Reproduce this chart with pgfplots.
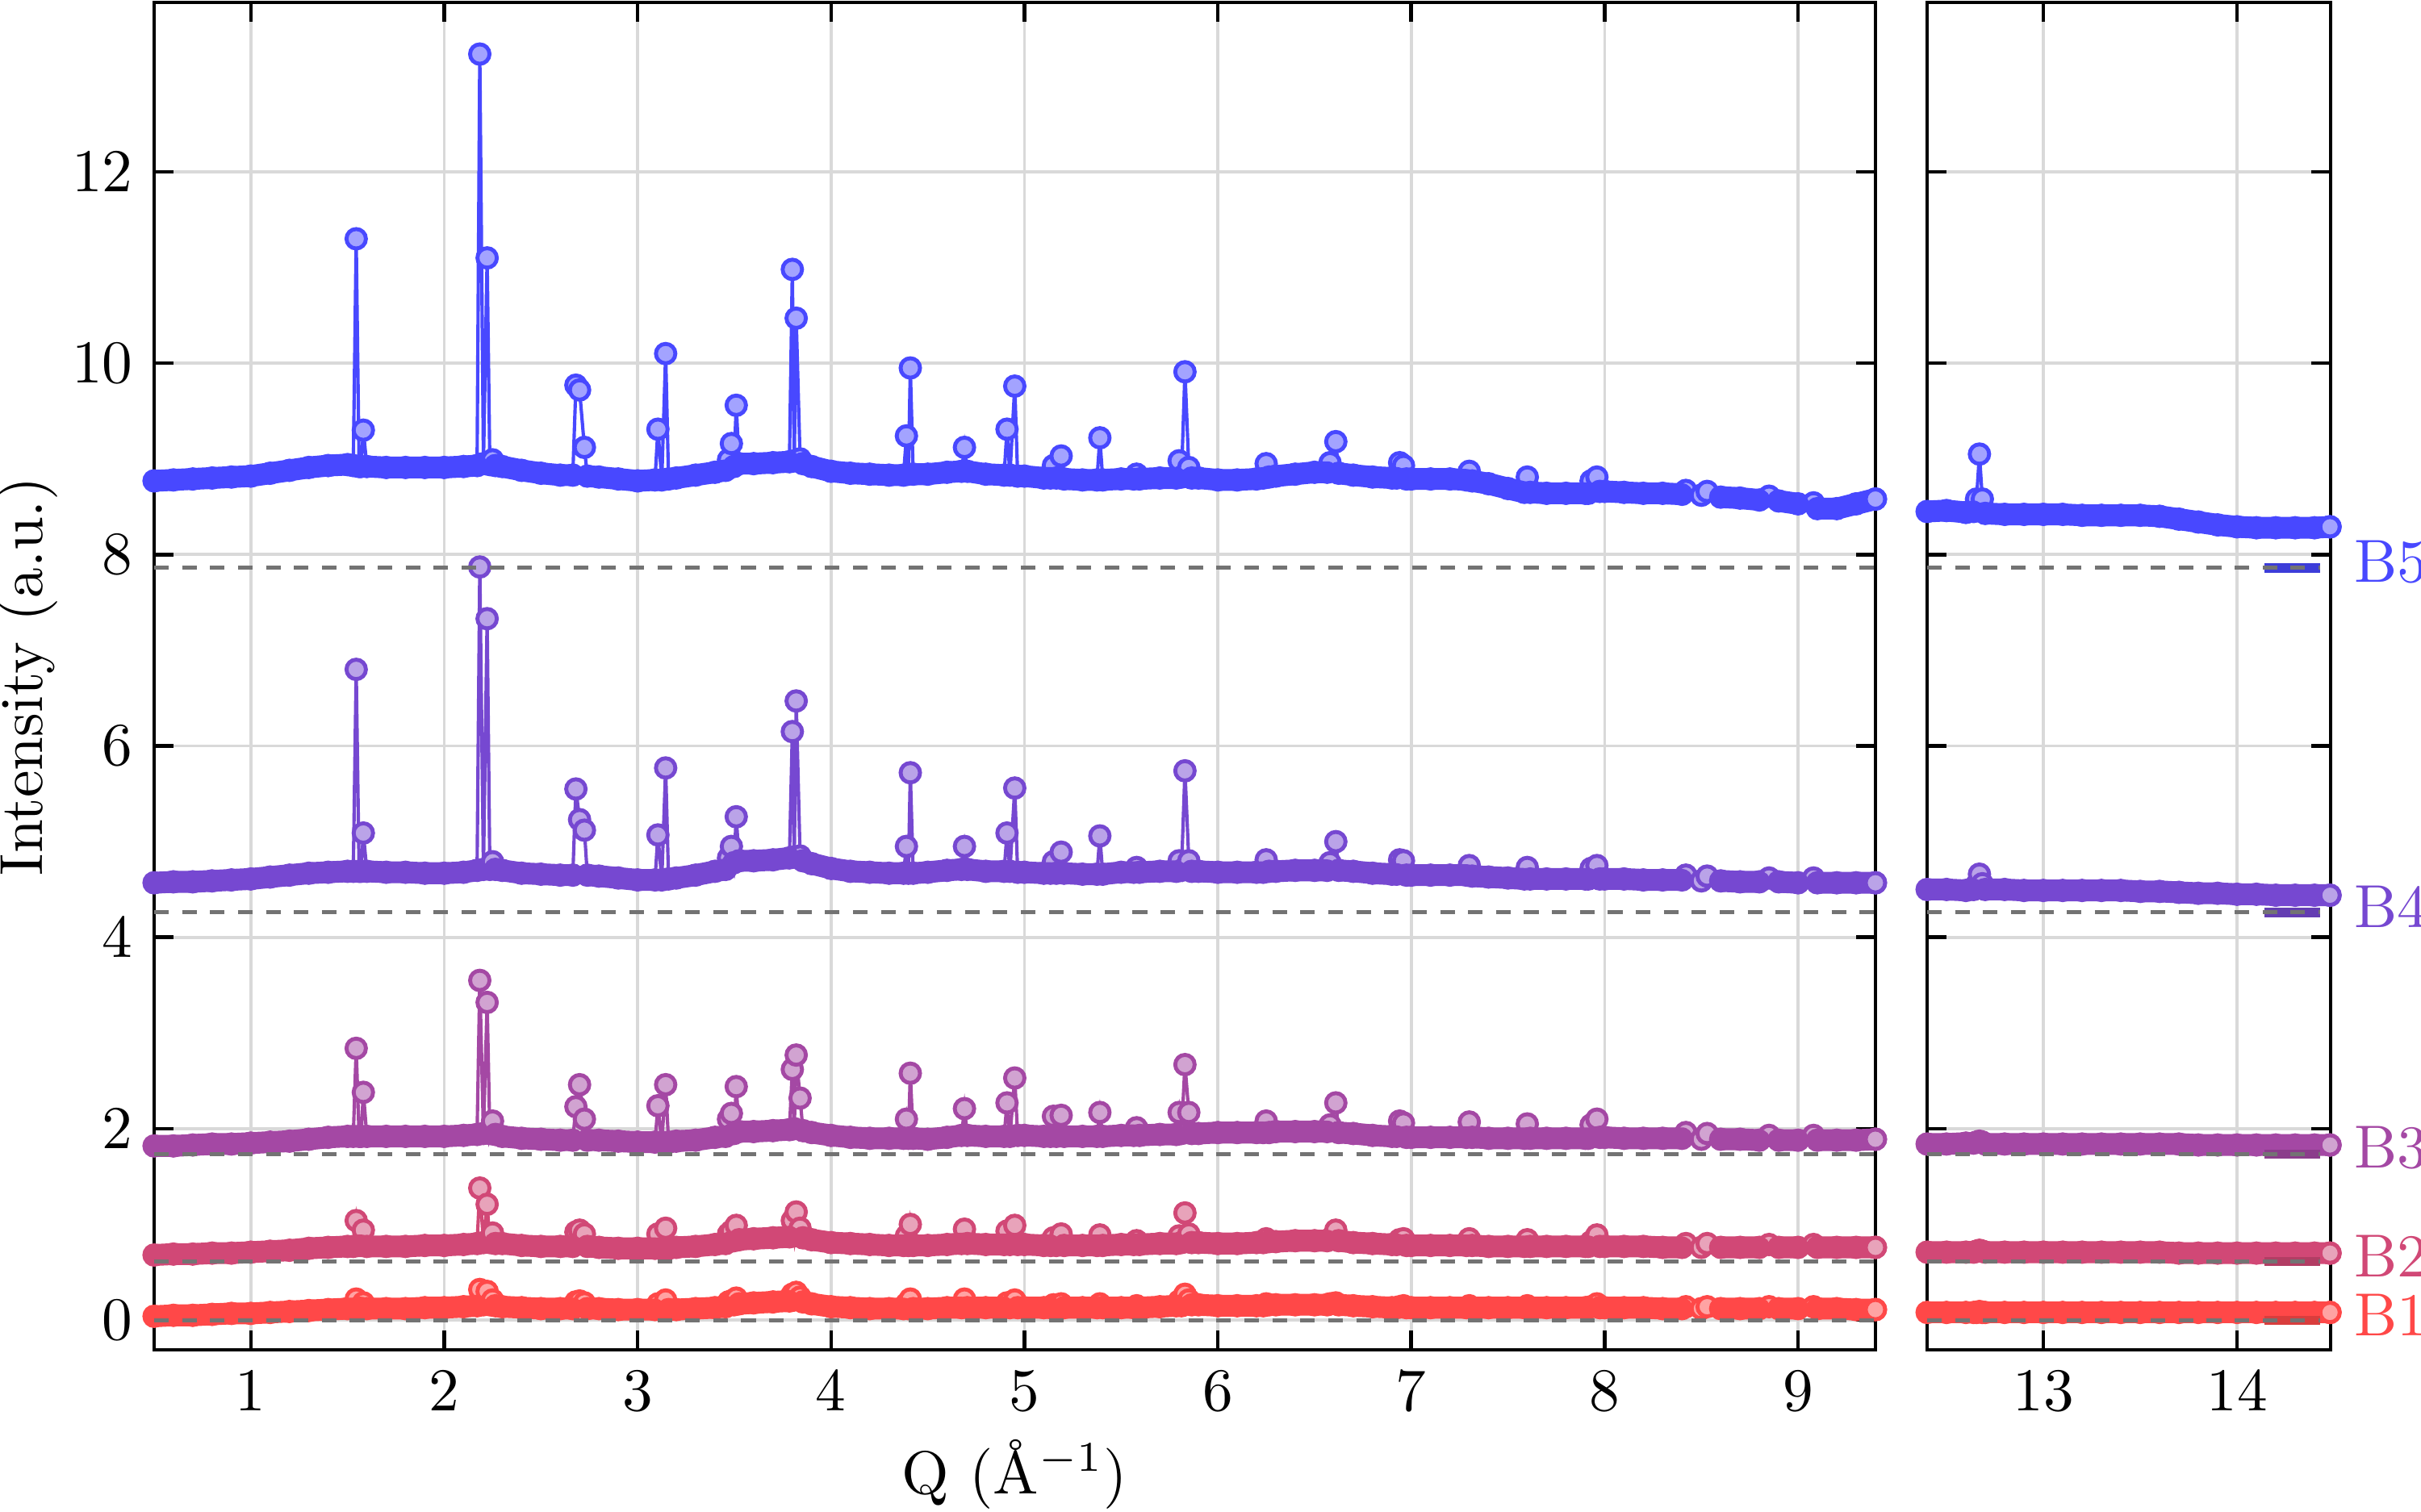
\documentclass[border=0pt]{standalone}
\usepackage{pgfplots}
\pgfplotsset{compat=1.18}
\usepackage{pgfplotstable}

\definecolor{cB1}{RGB}{255,72,72}
\definecolor{cB2}{RGB}{209,72,118}
\definecolor{cB3}{RGB}{164,72,164}
\definecolor{cB4}{RGB}{118,72,209}
\definecolor{cB5}{RGB}{72,72,255}

\pgfplotstableread{
Q b1 b2 b3 b4 b5 pk
0.50 0.04 0.68 1.82 4.57 8.77 0
0.60 0.05 0.69 1.82 4.58 8.78 0
0.70 0.05 0.69 1.83 4.58 8.79 0
0.80 0.06 0.70 1.84 4.59 8.80 0
0.90 0.07 0.70 1.84 4.60 8.81 0
1.00 0.07 0.71 1.85 4.61 8.82 0
1.10 0.08 0.72 1.86 4.63 8.85 0
1.20 0.09 0.73 1.87 4.65 8.88 0
1.30 0.10 0.75 1.89 4.67 8.91 0
1.40 0.11 0.76 1.91 4.68 8.93 0
1.50 0.12 0.77 1.92 4.69 8.94 0
1.530 0.12 0.77 1.92 4.69 8.93 0
1.545 0.22 1.04 2.84 6.80 11.30 1
1.560 0.13 0.78 1.92 4.69 8.92 0
1.570 0.13 0.78 1.92 4.69 8.92 0
1.582 0.18 0.94 2.38 5.09 9.30 1
1.60 0.12 0.77 1.92 4.69 8.92 0
1.70 0.12 0.77 1.92 4.68 8.91 0
1.80 0.12 0.77 1.92 4.68 8.91 0
1.90 0.13 0.78 1.92 4.67 8.91 0
2.00 0.13 0.78 1.92 4.67 8.91 0
2.10 0.14 0.79 1.93 4.68 8.92 0
2.170 0.15 0.80 1.94 4.70 8.93 0
2.184 0.32 1.38 3.55 7.87 13.23 1
2.203 0.16 0.81 1.95 4.71 8.95 0
2.222 0.30 1.21 3.32 7.33 11.10 1
2.236 0.16 0.81 1.95 4.71 8.94 0
2.250 0.21 0.91 2.08 4.79 8.99 1
2.265 0.15 0.80 1.94 4.71 8.93 0
2.30 0.14 0.80 1.92 4.70 8.92 0
2.40 0.13 0.78 1.90 4.67 8.88 0
2.50 0.12 0.77 1.89 4.66 8.85 0
2.60 0.12 0.77 1.88 4.65 8.83 0
2.665 0.12 0.77 1.88 4.65 8.83 0
2.681 0.19 0.92 2.23 5.55 9.77 1
2.700 0.20 0.94 2.46 5.23 9.72 1
2.725 0.18 0.90 2.10 5.12 9.12 1
2.740 0.12 0.77 1.88 4.65 8.82 0
2.80 0.12 0.76 1.88 4.64 8.81 0
2.90 0.11 0.75 1.87 4.62 8.79 0
3.00 0.11 0.75 1.86 4.60 8.77 0
3.090 0.11 0.75 1.86 4.60 8.78 0
3.105 0.17 0.90 2.24 5.07 9.31 1
3.125 0.11 0.75 1.86 4.60 8.78 0
3.145 0.21 0.96 2.46 5.77 10.10 1
3.160 0.11 0.75 1.86 4.61 8.79 0
3.20 0.11 0.76 1.87 4.62 8.80 0
3.30 0.12 0.77 1.88 4.65 8.83 0
3.40 0.13 0.79 1.91 4.69 8.86 0
3.455 0.14 0.80 1.92 4.71 8.88 0
3.470 0.19 0.90 2.10 4.83 8.99 1
3.485 0.20 0.93 2.16 4.95 9.16 1
3.498 0.16 0.83 1.95 4.78 8.92 0
3.510 0.23 0.99 2.44 5.26 9.56 1
3.525 0.17 0.84 1.97 4.80 8.95 0
3.60 0.18 0.85 1.97 4.80 8.95 0
3.70 0.19 0.86 1.98 4.81 8.96 0
3.785 0.20 0.87 1.99 4.83 8.97 0
3.800 0.27 1.04 2.62 6.15 10.98 1
3.810 0.21 0.88 2.00 4.84 8.98 0
3.820 0.29 1.13 2.77 6.47 10.47 1
3.840 0.24 0.96 2.32 4.85 9.00 1
3.855 0.19 0.86 1.98 4.80 8.95 0
3.90 0.17 0.84 1.96 4.77 8.92 0
4.00 0.14 0.81 1.93 4.72 8.87 0
4.10 0.13 0.80 1.91 4.69 8.85 0
4.20 0.12 0.79 1.90 4.68 8.84 0
4.30 0.12 0.78 1.90 4.67 8.83 0
4.375 0.12 0.78 1.90 4.67 8.83 0
4.390 0.17 0.88 2.10 4.95 9.24 1
4.400 0.12 0.78 1.90 4.67 8.84 0
4.410 0.22 1.00 2.58 5.72 9.95 1
4.425 0.12 0.78 1.90 4.67 8.84 0
4.50 0.12 0.78 1.89 4.68 8.84 0
4.60 0.13 0.79 1.91 4.70 8.86 0
4.675 0.13 0.80 1.93 4.71 8.87 0
4.690 0.22 0.95 2.21 4.95 9.12 1
4.705 0.13 0.80 1.93 4.71 8.87 0
4.80 0.13 0.79 1.92 4.69 8.84 0
4.895 0.13 0.79 1.92 4.69 8.83 0
4.910 0.18 0.93 2.27 5.09 9.31 1
4.925 0.13 0.79 1.92 4.69 8.83 0
4.950 0.21 0.99 2.53 5.56 9.76 1
4.965 0.13 0.79 1.93 4.68 8.82 0
5.00 0.13 0.79 1.93 4.68 8.82 0
5.10 0.13 0.78 1.92 4.67 8.80 0
5.135 0.13 0.78 1.92 4.67 8.80 0
5.150 0.16 0.86 2.13 4.79 8.93 1
5.165 0.13 0.78 1.92 4.67 8.80 0
5.190 0.17 0.90 2.14 4.89 9.03 1
5.205 0.13 0.78 1.92 4.67 8.79 0
5.30 0.13 0.78 1.92 4.66 8.78 0
5.375 0.13 0.78 1.92 4.66 8.78 0
5.390 0.17 0.89 2.17 5.06 9.22 1
5.405 0.13 0.78 1.92 4.66 8.78 0
5.50 0.13 0.79 1.93 4.68 8.79 0
5.565 0.13 0.79 1.93 4.68 8.79 0
5.580 0.15 0.83 2.01 4.73 8.84 1
5.595 0.13 0.79 1.93 4.68 8.79 0
5.70 0.14 0.80 1.94 4.69 8.80 0
5.785 0.15 0.80 1.94 4.69 8.80 0
5.800 0.20 0.88 2.17 4.80 8.98 1
5.812 0.15 0.81 1.95 4.70 8.81 0
5.830 0.27 1.12 2.67 5.74 9.91 1
5.850 0.21 0.90 2.17 4.80 8.91 1
5.865 0.16 0.81 1.95 4.69 8.80 0
5.90 0.16 0.81 1.95 4.69 8.80 0
6.00 0.15 0.80 1.96 4.68 8.78 0
6.10 0.15 0.80 1.96 4.68 8.78 0
6.20 0.15 0.81 1.96 4.68 8.79 0
6.235 0.15 0.81 1.96 4.68 8.80 0
6.250 0.17 0.85 2.08 4.81 8.95 1
6.265 0.16 0.82 1.96 4.69 8.81 0
6.30 0.16 0.82 1.97 4.69 8.82 0
6.40 0.16 0.83 1.97 4.70 8.84 0
6.50 0.16 0.83 1.97 4.70 8.86 0
6.565 0.16 0.83 1.97 4.70 8.86 0
6.580 0.17 0.85 2.04 4.78 8.96 1
6.610 0.18 0.94 2.27 5.00 9.18 1
6.625 0.16 0.83 1.96 4.70 8.85 0
6.70 0.15 0.81 1.95 4.69 8.83 0
6.80 0.14 0.80 1.93 4.67 8.81 0
6.90 0.13 0.79 1.92 4.66 8.80 0
6.925 0.13 0.79 1.92 4.66 8.80 0
6.940 0.14 0.84 2.08 4.81 8.96 1
6.960 0.15 0.85 2.06 4.80 8.93 1
6.975 0.13 0.78 1.91 4.65 8.79 0
7.00 0.13 0.78 1.91 4.65 8.79 0
7.10 0.13 0.78 1.91 4.65 8.79 0
7.20 0.13 0.78 1.91 4.65 8.79 0
7.285 0.13 0.78 1.91 4.65 8.78 0
7.300 0.15 0.85 2.07 4.75 8.87 1
7.315 0.13 0.78 1.91 4.64 8.77 0
7.40 0.13 0.77 1.90 4.63 8.74 0
7.50 0.13 0.77 1.90 4.62 8.69 0
7.585 0.13 0.77 1.90 4.61 8.65 0
7.600 0.15 0.84 2.05 4.73 8.81 1
7.615 0.13 0.77 1.90 4.61 8.65 0
7.70 0.13 0.77 1.90 4.61 8.64 0
7.80 0.13 0.77 1.90 4.61 8.64 0
7.90 0.13 0.77 1.90 4.61 8.64 0
7.915 0.13 0.77 1.90 4.61 8.64 0
7.930 0.14 0.82 2.04 4.72 8.77 1
7.960 0.17 0.89 2.10 4.75 8.81 1
7.975 0.13 0.77 1.91 4.61 8.66 0
8.00 0.13 0.77 1.91 4.61 8.66 0
8.10 0.13 0.77 1.90 4.61 8.65 0
8.20 0.13 0.77 1.90 4.60 8.64 0
8.30 0.12 0.76 1.90 4.60 8.64 0
8.40 0.12 0.76 1.90 4.60 8.63 0
8.420 0.14 0.80 1.96 4.65 8.67 1
8.50 0.12 0.76 1.89 4.59 8.62 0
8.530 0.14 0.80 1.95 4.64 8.66 1
8.60 0.12 0.76 1.89 4.59 8.60 0
8.70 0.12 0.76 1.89 4.58 8.59 0
8.80 0.12 0.76 1.88 4.58 8.57 0
8.850 0.14 0.79 1.93 4.62 8.61 1
8.90 0.12 0.76 1.88 4.58 8.56 0
9.00 0.12 0.76 1.88 4.57 8.53 0
9.080 0.14 0.79 1.93 4.62 8.54 1
9.10 0.12 0.76 1.88 4.57 8.48 0
9.20 0.12 0.76 1.88 4.57 8.48 0
9.30 0.11 0.76 1.88 4.57 8.53 0
9.40 0.11 0.76 1.89 4.57 8.58 0
}\leftdata

\pgfplotstableread{
Q b1 b2 b3 b4 b5 pk
12.40 0.08 0.71 1.84 4.50 8.45 0
12.50 0.08 0.71 1.84 4.50 8.46 0
12.60 0.08 0.71 1.85 4.49 8.44 0
12.640 0.08 0.71 1.85 4.50 8.45 0
12.655 0.08 0.72 1.86 4.55 8.58 1
12.670 0.09 0.73 1.87 4.66 9.05 1
12.685 0.08 0.72 1.86 4.56 8.58 1
12.70 0.08 0.71 1.84 4.50 8.43 0
12.80 0.08 0.71 1.84 4.50 8.42 0
12.90 0.08 0.71 1.84 4.49 8.42 0
13.00 0.08 0.71 1.84 4.49 8.42 0
13.10 0.08 0.71 1.84 4.49 8.42 0
13.20 0.08 0.71 1.84 4.49 8.41 0
13.30 0.08 0.71 1.84 4.49 8.41 0
13.40 0.08 0.71 1.84 4.49 8.41 0
13.50 0.08 0.71 1.84 4.48 8.41 0
13.60 0.08 0.71 1.84 4.48 8.40 0
13.70 0.08 0.70 1.84 4.47 8.37 0
13.80 0.08 0.70 1.83 4.46 8.34 0
13.90 0.08 0.70 1.83 4.46 8.31 0
14.00 0.08 0.70 1.83 4.45 8.29 0
14.10 0.08 0.70 1.83 4.45 8.28 0
14.20 0.08 0.70 1.83 4.44 8.28 0
14.30 0.08 0.70 1.83 4.44 8.28 0
14.40 0.08 0.70 1.83 4.44 8.28 0
14.48 0.08 0.70 1.83 4.44 8.29 0
}\rightdata

% one series: line with circle marks, then a solid band through the baseline points,
% then the last point's marker on top
\newcommand{\spectrum}[4]{% #1 table, #2 column, #3 colour, #4 last x
  \addplot[color=#3, line width=0.55pt, mark=*, mark size=1.6pt,
    mark options={solid, fill=#3!50!white, draw=#3, line width=0.65pt}]
    table[x=Q, y=#2] {#1};
  \addplot[color=#3, line width=3.6pt, line cap=round, line join=round, no marks,
    restrict expr to domain={\thisrow{pk}}{-0.5:0.5}]
    table[x=Q, y=#2] {#1};
  \addplot[only marks, mark=*, mark size=1.6pt,
    mark options={solid, fill=#3!50!white, draw=#3, line width=0.65pt},
    restrict x to domain=#4]
    table[x=Q, y=#2] {#1};
}

\pgfplotsset{
  panel/.style={
    scale only axis, height=7.793cm,
    ymin=-0.31, ymax=13.77, ytick={0,2,...,12},
    grid=major, grid style={black!15, line width=0.5pt},
    axis line style={black, line width=0.6pt},
    every tick/.style={black, line width=0.6pt},
    major tick length=0.11cm, tick align=inside,
    clip=false, clip marker paths=true, anchor=south west,
  },
  dashline/.style={color=black!55, line width=0.65pt, dash pattern=on 2.4pt off 2.2pt},
}

\begin{document}
\begin{tikzpicture}
\useasboundingbox (0,0) rectangle (14cm,8.745cm);

\begin{axis}[panel, at={(0.891cm,0.938cm)}, width=9.954cm,
  xmin=0.5, xmax=9.4, xtick={1,...,9},
  xlabel={Q (\AA$^{-1}$)}, ylabel={Intensity (a.u.)},
  xlabel style={at={(axis description cs:0.5,-0.0923)}, anchor=center},
  ylabel style={at={(axis description cs:-0.0735,0.5)}, anchor=center}]
  \spectrum{\leftdata}{b1}{cB1}{9.39:9.41}
  \spectrum{\leftdata}{b2}{cB2}{9.39:9.41}
  \spectrum{\leftdata}{b3}{cB3}{9.39:9.41}
  \spectrum{\leftdata}{b4}{cB4}{9.39:9.41}
  \spectrum{\leftdata}{b5}{cB5}{9.39:9.41}
  \addplot[dashline] coordinates {(0.5,7.86) (9.4,7.86)};
  \addplot[dashline] coordinates {(0.5,4.26) (9.4,4.26)};
  \addplot[dashline] coordinates {(0.5,1.735) (9.4,1.735)};
  \addplot[dashline] coordinates {(0.5,0.612) (9.4,0.612)};
  \addplot[dashline] coordinates {(0.5,0.0) (9.4,0.0)};
\end{axis}

\begin{axis}[panel, at={(11.144cm,0.938cm)}, width=2.333cm,
  xmin=12.4, xmax=14.483, xtick={13,14}, yticklabels={}]
  \spectrum{\rightdata}{b1}{cB1}{14.47:14.49}
  \spectrum{\rightdata}{b2}{cB2}{14.47:14.49}
  \spectrum{\rightdata}{b3}{cB3}{14.47:14.49}
  \spectrum{\rightdata}{b4}{cB4}{14.47:14.49}
  \spectrum{\rightdata}{b5}{cB5}{14.47:14.49}
  \addplot[cB5!85!black, line width=1.5pt] coordinates {(14.14,7.86) (14.43,7.86)};
  \addplot[cB4!85!black, line width=1.5pt] coordinates {(14.14,4.26) (14.43,4.26)};
  \addplot[cB3!85!black, line width=1.5pt] coordinates {(14.14,1.735) (14.43,1.735)};
  \addplot[cB2!85!black, line width=1.5pt] coordinates {(14.14,0.612) (14.43,0.612)};
  \addplot[cB1!85!black, line width=1.5pt] coordinates {(14.14,0.0) (14.43,0.0)};
  \addplot[dashline] coordinates {(12.4,7.86) (14.43,7.86)};
  \addplot[dashline] coordinates {(12.4,4.26) (14.43,4.26)};
  \addplot[dashline] coordinates {(12.4,1.735) (14.43,1.735)};
  \addplot[dashline] coordinates {(12.4,0.612) (14.43,0.612)};
  \addplot[dashline] coordinates {(12.4,0.0) (14.43,0.0)};
  \node[anchor=west, text=cB5, inner sep=0pt, xshift=0.13cm] at (axis cs:14.483,7.92) {B5};
  \node[anchor=west, text=cB4, inner sep=0pt, xshift=0.13cm] at (axis cs:14.483,4.32) {B4};
  \node[anchor=west, text=cB3, inner sep=0pt, xshift=0.13cm] at (axis cs:14.483,1.80) {B3};
  \node[anchor=west, text=cB2, inner sep=0pt, xshift=0.13cm] at (axis cs:14.483,0.67) {B2};
  \node[anchor=west, text=cB1, inner sep=0pt, xshift=0.13cm] at (axis cs:14.483,0.05) {B1};
\end{axis}
\end{tikzpicture}
\end{document}
